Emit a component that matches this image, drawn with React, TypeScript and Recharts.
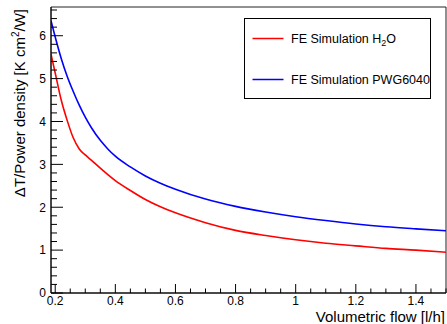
import React from 'react';
import { LineChart, Line, XAxis, YAxis, ReferenceArea } from 'recharts';

const flow = [0.186, 0.2, 0.22, 0.24, 0.26, 0.28, 0.3, 0.32, 0.35, 0.375, 0.4, 0.45, 0.5, 0.55, 0.6, 0.7, 0.8, 0.9, 1.0, 1.1, 1.2, 1.3, 1.4, 1.5];
const waterSim = [5.57, 5.13, 4.5, 4.02, 3.62, 3.36, 3.22, 3.1, 2.91, 2.76, 2.62, 2.39, 2.18, 2.01, 1.87, 1.64, 1.46, 1.34, 1.24, 1.16, 1.1, 1.04, 1.0, 0.95];
const pwgSim = [6.35, 5.97, 5.47, 5.05, 4.7, 4.38, 4.1, 3.86, 3.56, 3.36, 3.19, 2.94, 2.73, 2.56, 2.42, 2.19, 2.02, 1.89, 1.78, 1.69, 1.61, 1.545, 1.495, 1.45];

const seriesNames = ['FE Simulation H', 'FE Simulation PWG6040'];
const xMajorTicks = [0.2, 0.4, 0.6, 0.8, 1.0, 1.2, 1.4];
const xMajorLabels = ['0.2', '0.4', '0.6', '0.8', '1', '1.2', '1.4'];
const yMajorTicks = [0, 1, 2, 3, 4, 5, 6];
const yMajorLabels = ['0', '1', '2', '3', '4', '5', '6'];

const X_MIN = 0.186;
const X_MAX = 1.5;
const Y_MIN = 0;
const Y_MAX = 6.67;

const xTicks: number[] = [];
for (let i = 0; i <= 26; i++) xTicks.push(Math.round((0.2 + i * 0.05) * 1000) / 1000);
const yTicks: number[] = [];
for (let i = 0; i <= 33; i++) yTicks.push(Math.round(i * 0.2 * 1000) / 1000);

const data = flow.map((f, i) => ({ flow: f, water: waterSim[i], pwg: pwgSim[i] }));

const FONT = '"Liberation Sans", Arial, Helvetica, sans-serif';

const XTick = (props: any) => {
  const { x, y, payload } = props;
  const v = payload.value as number;
  const idx = xMajorTicks.findIndex((m) => Math.abs(m - v) < 1e-6);
  const major = idx >= 0;
  return (
    <g>
      <line x1={x} x2={x} y1={y} y2={y - (major ? 9 : 4.5)} stroke="#000" strokeWidth={1} />
      {major && (
        <text x={x} y={y + 12} textAnchor="middle" fontSize={12} fontFamily={FONT} fill="#000">
          {xMajorLabels[idx]}
        </text>
      )}
    </g>
  );
};

const YTick = (props: any) => {
  const { x, y, payload } = props;
  const v = payload.value as number;
  const idx = yMajorTicks.findIndex((m) => Math.abs(m - v) < 1e-6);
  const major = idx >= 0;
  return (
    <g>
      <line x1={x} x2={x + (major ? 12 : 6)} y1={y} y2={y} stroke="#000" strokeWidth={1} />
      {major && (
        <text x={x - 5} y={y + 4.3} textAnchor="end" fontSize={12} fontFamily={FONT} fill="#000">
          {yMajorLabels[idx]}
        </text>
      )}
    </g>
  );
};

export default function App() {
  return (
    <div style={{ position: 'absolute', left: 0, top: 0, width: 447, height: 324, background: '#fff' }}>
      <LineChart width={447} height={324} data={data} margin={{ top: 7, right: 1, left: 0, bottom: 0 }}>
        <XAxis
          dataKey="flow"
          type="number"
          domain={[X_MIN, X_MAX]}
          ticks={xTicks}
          interval={0}
          tickSize={0}
          tickMargin={0}
          tickLine={false}
          tick={<XTick />}
          height={31}
          axisLine={{ stroke: '#000', strokeWidth: 1 }}
          allowDataOverflow
        />
        <YAxis
          type="number"
          domain={[Y_MIN, Y_MAX]}
          ticks={yTicks}
          interval={0}
          tickSize={0}
          tickMargin={0}
          tickLine={false}
          tick={<YTick />}
          width={51}
          axisLine={{ stroke: '#000', strokeWidth: 1 }}
          allowDataOverflow
        />
        <ReferenceArea x1={X_MIN} x2={X_MAX} y1={Y_MIN} y2={Y_MAX} fill="none" stroke="#222" strokeWidth={1} ifOverflow="extendDomain" />
        <Line type="monotone" dataKey="water" stroke="#ff0000" strokeWidth={1.6} dot={false} isAnimationActive={false} />
        <Line type="monotone" dataKey="pwg" stroke="#0000ff" strokeWidth={1.6} dot={false} isAnimationActive={false} />
      </LineChart>
      <svg width={447} height={324} style={{ position: 'absolute', left: 0, top: 0, pointerEvents: 'none' }}>
        <text x={445} y={322} textAnchor="end" fontSize={15} fontFamily={FONT} fill="#000">
          Volumetric flow [l/h]
        </text>
        <text
          x={25}
          y={9}
          textAnchor="end"
          fontSize={15}
          fontFamily={FONT}
          fill="#000"
          transform="rotate(-90 25 9)"
        >
          ΔT/Power density [K cm<tspan dy={-6} fontSize={10}>2</tspan>
          <tspan dy={6}>/W]</tspan>
        </text>
        <g transform="translate(244.5 18.5)">
          <rect x={0} y={0} width={186} height={80} fill="#fff" stroke="#000" strokeWidth={1} />
          <line x1={8} x2={39} y1={20} y2={20} stroke="#ff0000" strokeWidth={1.5} />
          <text x={46.5} y={24} fontSize={12.5} fontFamily={FONT} fill="#000">
            {seriesNames[0]}
            <tspan dy={3} fontSize={9}>2</tspan>
            <tspan dy={-3}>O</tspan>
          </text>
          <line x1={8} x2={39} y1={61} y2={61} stroke="#0000ff" strokeWidth={1.5} />
          <text x={46.5} y={65} fontSize={12.5} fontFamily={FONT} fill="#000">
            {seriesNames[1]}
          </text>
        </g>
      </svg>
    </div>
  );
}
